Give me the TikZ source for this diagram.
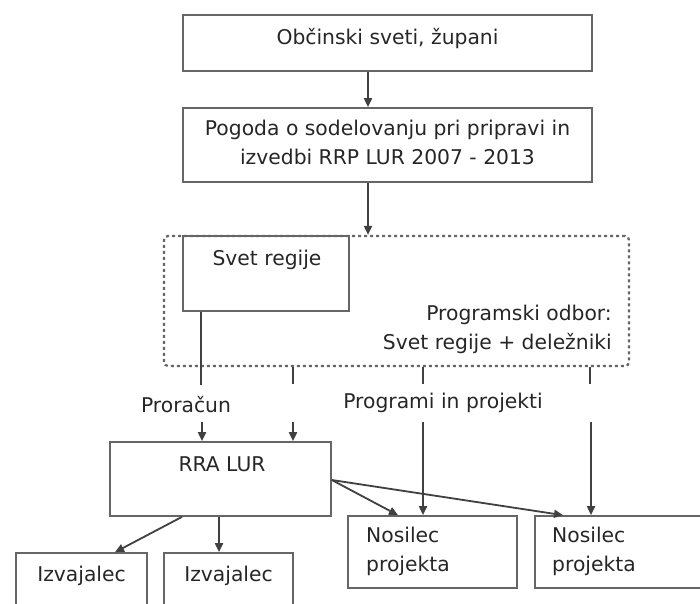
\documentclass[tikz,border=0pt]{standalone}
\usepackage{fontspec}
\setmainfont{DejaVu Sans}
\usetikzlibrary{arrows.meta}
\definecolor{txtc}{HTML}{262626}
\definecolor{linec}{HTML}{404040}
\definecolor{boxc}{HTML}{666666}
\begin{document}
\begin{tikzpicture}[x=1pt,y=-1pt,
  box/.style={draw=boxc,line width=1.7pt,inner sep=0pt,rectangle},
  txt/.style={text=txtc,font=\fontsize{20.3}{29}\selectfont,inner sep=0pt},
  arr/.style={draw=linec,line width=1.8pt,-{Triangle[length=9pt,width=8pt]}},
  ln/.style={draw=linec,line width=1.8pt},
  dots/.style={draw=boxc,line width=2.2pt,dash pattern=on 3pt off 3pt,rounded corners=4pt}]
\useasboundingbox (0,0) rectangle (700,603);
\clip (0,0) rectangle (700,603);
% boxes
\node[box,minimum width=409pt,minimum height=56pt] (b1) at (387.5,43) {};
\node[txt] (t1) at (387.5,38) {Občinski sveti, župani};
\node[box,minimum width=409pt,minimum height=74pt] (b2) at (387.5,145) {};
\node[txt,align=center] (t2) at (387.5,142.5) {Pogoda o sodelovanju pri pripravi in\\izvedbi RRP LUR 2007 - 2013};
\node[dots,minimum width=465pt,minimum height=130pt,inner sep=0pt] (po) at (396.5,301) {};
\node[box,minimum width=166pt,minimum height=75pt] (sr) at (266,273.5) {};
\node[txt] (t3) at (267,260) {Svet regije};
\node[txt,align=right,anchor=east] (t4) at (612,329) {Programski odbor:\\Svet regije + deležniki};
\node[box,minimum width=221pt,minimum height=74pt] (rra) at (220.5,479) {};
\node[txt] (t5) at (222,464) {RRA LUR};
\node[box,minimum width=131pt,minimum height=80pt] (iz1) at (81.5,593) {};
\node[txt] (t6) at (81.5,576) {Izvajalec};
\node[box,minimum width=129pt,minimum height=80pt] (iz2) at (228.5,593) {};
\node[txt] (t7) at (228.5,576) {Izvajalec};
\node[box,minimum width=169pt,minimum height=72pt] (n1) at (432.5,552) {};
\node[txt,align=left,anchor=west] (t8) at (366,551) {Nosilec\\projekta};
\node[box,minimum width=180pt,minimum height=72pt] (n2) at (625,552) {};
\node[txt,align=left,anchor=west] (t9) at (552,551) {Nosilec\\projekta};
% labels
\node[txt] (l1) at (186,405) {Proračun};
\node[txt] (l2) at (443,403) {Programi in projekti};
% coordinates
\coordinate (c0) at (368,0);
\coordinate (c1) at (201,385);
\coordinate (c1b) at (202,422);
\coordinate (c2) at (293,384);
\coordinate (c2b) at (293,422);
\coordinate (c3) at (423,384);
\coordinate (c3b) at (423,422);
\coordinate (c4) at (590,384);
\coordinate (c4b) at (591,422);
\coordinate (c5) at (219,0);
% connectors
\draw[arr] (b1.south -| c0) -- (b2.north -| c0);
\draw[arr] (b2.south -| c0) -- (po.north -| c0);
\draw[ln] (sr.south -| c1) -- (c1);
\draw[ln] (po.south -| c2) -- (c2);
\draw[ln] (po.south -| c3) -- (c3);
\draw[ln] (po.south -| c4) -- (c4);
\draw[arr] (c1b) -- (rra.north -| c1b);
\draw[arr] (c2b) -- (rra.north -| c2b);
\draw[arr] (c3b) -- (n1.north -| c3b);
\draw[arr] (c4b) -- (n2.north -| c4b);
\draw[arr] ([xshift=-38.5pt]rra.south) -- ([xshift=33.5pt]iz1.north);
\draw[arr] (rra.south -| c5) -- (iz2.north -| c5);
\draw[arr] ([yshift=-1pt]rra.east) -- ([xshift=-34.5pt]n1.north);
\draw[arr] ([yshift=-1pt]rra.east) -- ([xshift=-62pt]n2.north);
\end{tikzpicture}
\end{document}
